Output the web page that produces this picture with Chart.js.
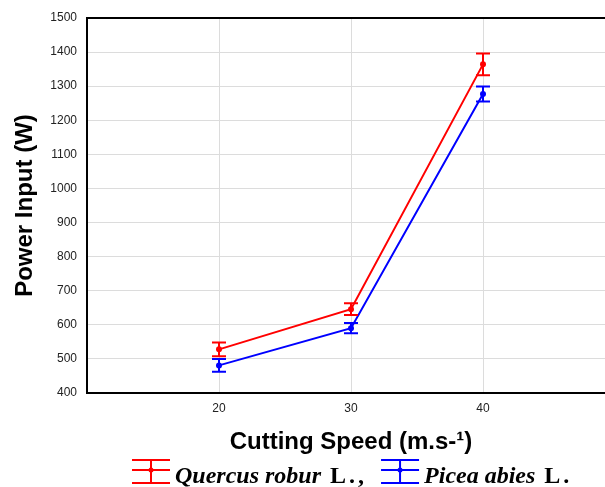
<!DOCTYPE html>
<html>
<head>
<meta charset="utf-8">
<script src="https://cdn.jsdelivr.net/npm/chart.js@4/dist/chart.umd.min.js"></script>
<style>
  html, body { margin: 0; padding: 0; background: #fff; overflow: hidden; }
  #wrap { width: 620px; height: 487px; }
</style>
</head>
<body>
<div id="wrap"><canvas id="c" width="620" height="487"></canvas></div>
<script>
// Cutting speed (m.s-1) on the x axis
const speeds = [20, 30, 40];
// Mean power input (W) and error-bar half widths for each species
const quercusMean = [528, 646, 1364];
const quercusErr  = [20, 17, 32];
const piceaMean   = [481, 590, 1277];
const piceaErr    = [19, 15, 22];
// Species names and authority shown in the legend
const seriesNames = ['Quercus robur', 'Picea abies'];
const seriesAuthority = ['L.,', 'L.'];
const seriesColors = ['#ff0000', '#0000ff'];
// Axis labels
const yTickValues = [400, 500, 600, 700, 800, 900, 1000, 1100, 1200, 1300, 1400, 1500];
const xTitle = 'Cutting Speed (m.s-\u00B9)';
const yTitle = 'Power Input (W)';

const means = [quercusMean, piceaMean];
const errs = [quercusErr, piceaErr];

const SANS = '"Liberation Sans", Arial, sans-serif';
const SERIF = '"Liberation Serif", "Times New Roman", serif';

// Vertical error bars with caps, positioned through the chart scales
const errorBars = {
  id: 'errorBars',
  afterDatasetsDraw(chart) {
    const {ctx, scales: {x, y}} = chart;
    ctx.save();
    ctx.lineWidth = 2;
    means.forEach((m, s) => {
      ctx.strokeStyle = seriesColors[s];
      m.forEach((v, i) => {
        const px = Math.round(x.getPixelForValue(speeds[i]));
        const yHi = y.getPixelForValue(v + errs[s][i]);
        const yLo = y.getPixelForValue(v - errs[s][i]);
        ctx.beginPath();
        ctx.moveTo(px, yHi); ctx.lineTo(px, yLo);
        ctx.moveTo(px - 7, yHi); ctx.lineTo(px + 7, yHi);
        ctx.moveTo(px - 7, yLo); ctx.lineTo(px + 7, yLo);
        ctx.stroke();
      });
    });
    ctx.restore();
  }
};

// Legend row: error-bar symbol, italic species name, plain authority
const speciesLegend = {
  id: 'speciesLegend',
  afterDraw(chart) {
    const ctx = chart.ctx;
    ctx.save();
    let xPos = 132;
    const base = 483;
    seriesNames.forEach((name, s) => {
      const col = seriesColors[s];
      ctx.strokeStyle = col;
      ctx.fillStyle = col;
      ctx.lineWidth = 2;
      const w = 38, cx = xPos + w / 2;
      ctx.beginPath();
      ctx.moveTo(xPos, 460); ctx.lineTo(xPos + w, 460);
      ctx.moveTo(xPos, 470); ctx.lineTo(xPos + w, 470);
      ctx.moveTo(xPos, 483); ctx.lineTo(xPos + w, 483);
      ctx.moveTo(cx, 460); ctx.lineTo(cx, 483);
      ctx.stroke();
      ctx.beginPath();
      ctx.arc(cx, 470, 2.5, 0, Math.PI * 2);
      ctx.fill();
      xPos += w + 5;
      ctx.fillStyle = '#000';
      ctx.textBaseline = 'alphabetic';
      ctx.letterSpacing = '0px';
      ctx.font = 'italic bold 24px ' + SERIF;
      ctx.fillText(name, xPos, base);
      xPos += ctx.measureText(name).width + 9;
      ctx.font = 'bold 24px ' + SERIF;
      ctx.letterSpacing = '3px';
      ctx.fillText(seriesAuthority[s], xPos, base);
      xPos += ctx.measureText(seriesAuthority[s]).width + 14;
    });
    ctx.restore();
  }
};

new Chart(document.getElementById('c'), {
  type: 'line',
  data: {
    datasets: seriesNames.map((name, s) => ({
      label: name,
      data: speeds.map((sp, i) => ({x: sp, y: means[s][i]})),
      borderColor: seriesColors[s],
      backgroundColor: seriesColors[s],
      borderWidth: 2,
      pointRadius: 3,
      pointBorderWidth: 0,
      tension: 0
    }))
  },
  options: {
    responsive: false,
    animation: false,
    devicePixelRatio: 1,
    layout: { padding: { left: 0, top: 18, right: 5, bottom: 30 } },
    plugins: { legend: { display: false }, tooltip: { enabled: false } },
    scales: {
      x: {
        type: 'linear',
        min: 10, max: 50,
        afterBuildTicks: (sc) => { sc.ticks = speeds.map(v => ({value: v})); },
        afterFit: (sc) => { sc.height = 64; },
        grid: { color: '#dcdcdc', lineWidth: 1, drawTicks: false },
        border: { display: true, color: '#000', width: 2 },
        ticks: { color: '#222', padding: 8, font: { family: SANS, size: 12 },
                 callback: (v) => String(v) },
        title: {
          display: true, text: xTitle, color: '#000',
          font: { family: SANS, size: 24, weight: 'bold' },
          padding: { top: 0, bottom: 0 }
        }
      },
      y: {
        min: 400, max: 1500,
        afterBuildTicks: (sc) => { sc.ticks = yTickValues.map(v => ({value: v})); },
        afterFit: (sc) => { sc.width = 87; },
        grid: {
          color: (c) => c.tick && c.tick.value === 1500 ? '#000' : '#dcdcdc',
          lineWidth: (c) => c.tick && c.tick.value === 1500 ? 2 : 1,
          drawTicks: false
        },
        border: { display: true, color: '#000', width: 2 },
        ticks: { color: '#222', padding: 10, font: { family: SANS, size: 12 },
                 callback: (v) => String(v) },
        title: {
          display: true, text: yTitle, color: '#000',
          font: { family: SANS, size: 24, weight: 'bold' },
          padding: { top: 11, bottom: 0 }
        }
      }
    }
  },
  plugins: [errorBars, speciesLegend]
});
</script>
</body>
</html>
